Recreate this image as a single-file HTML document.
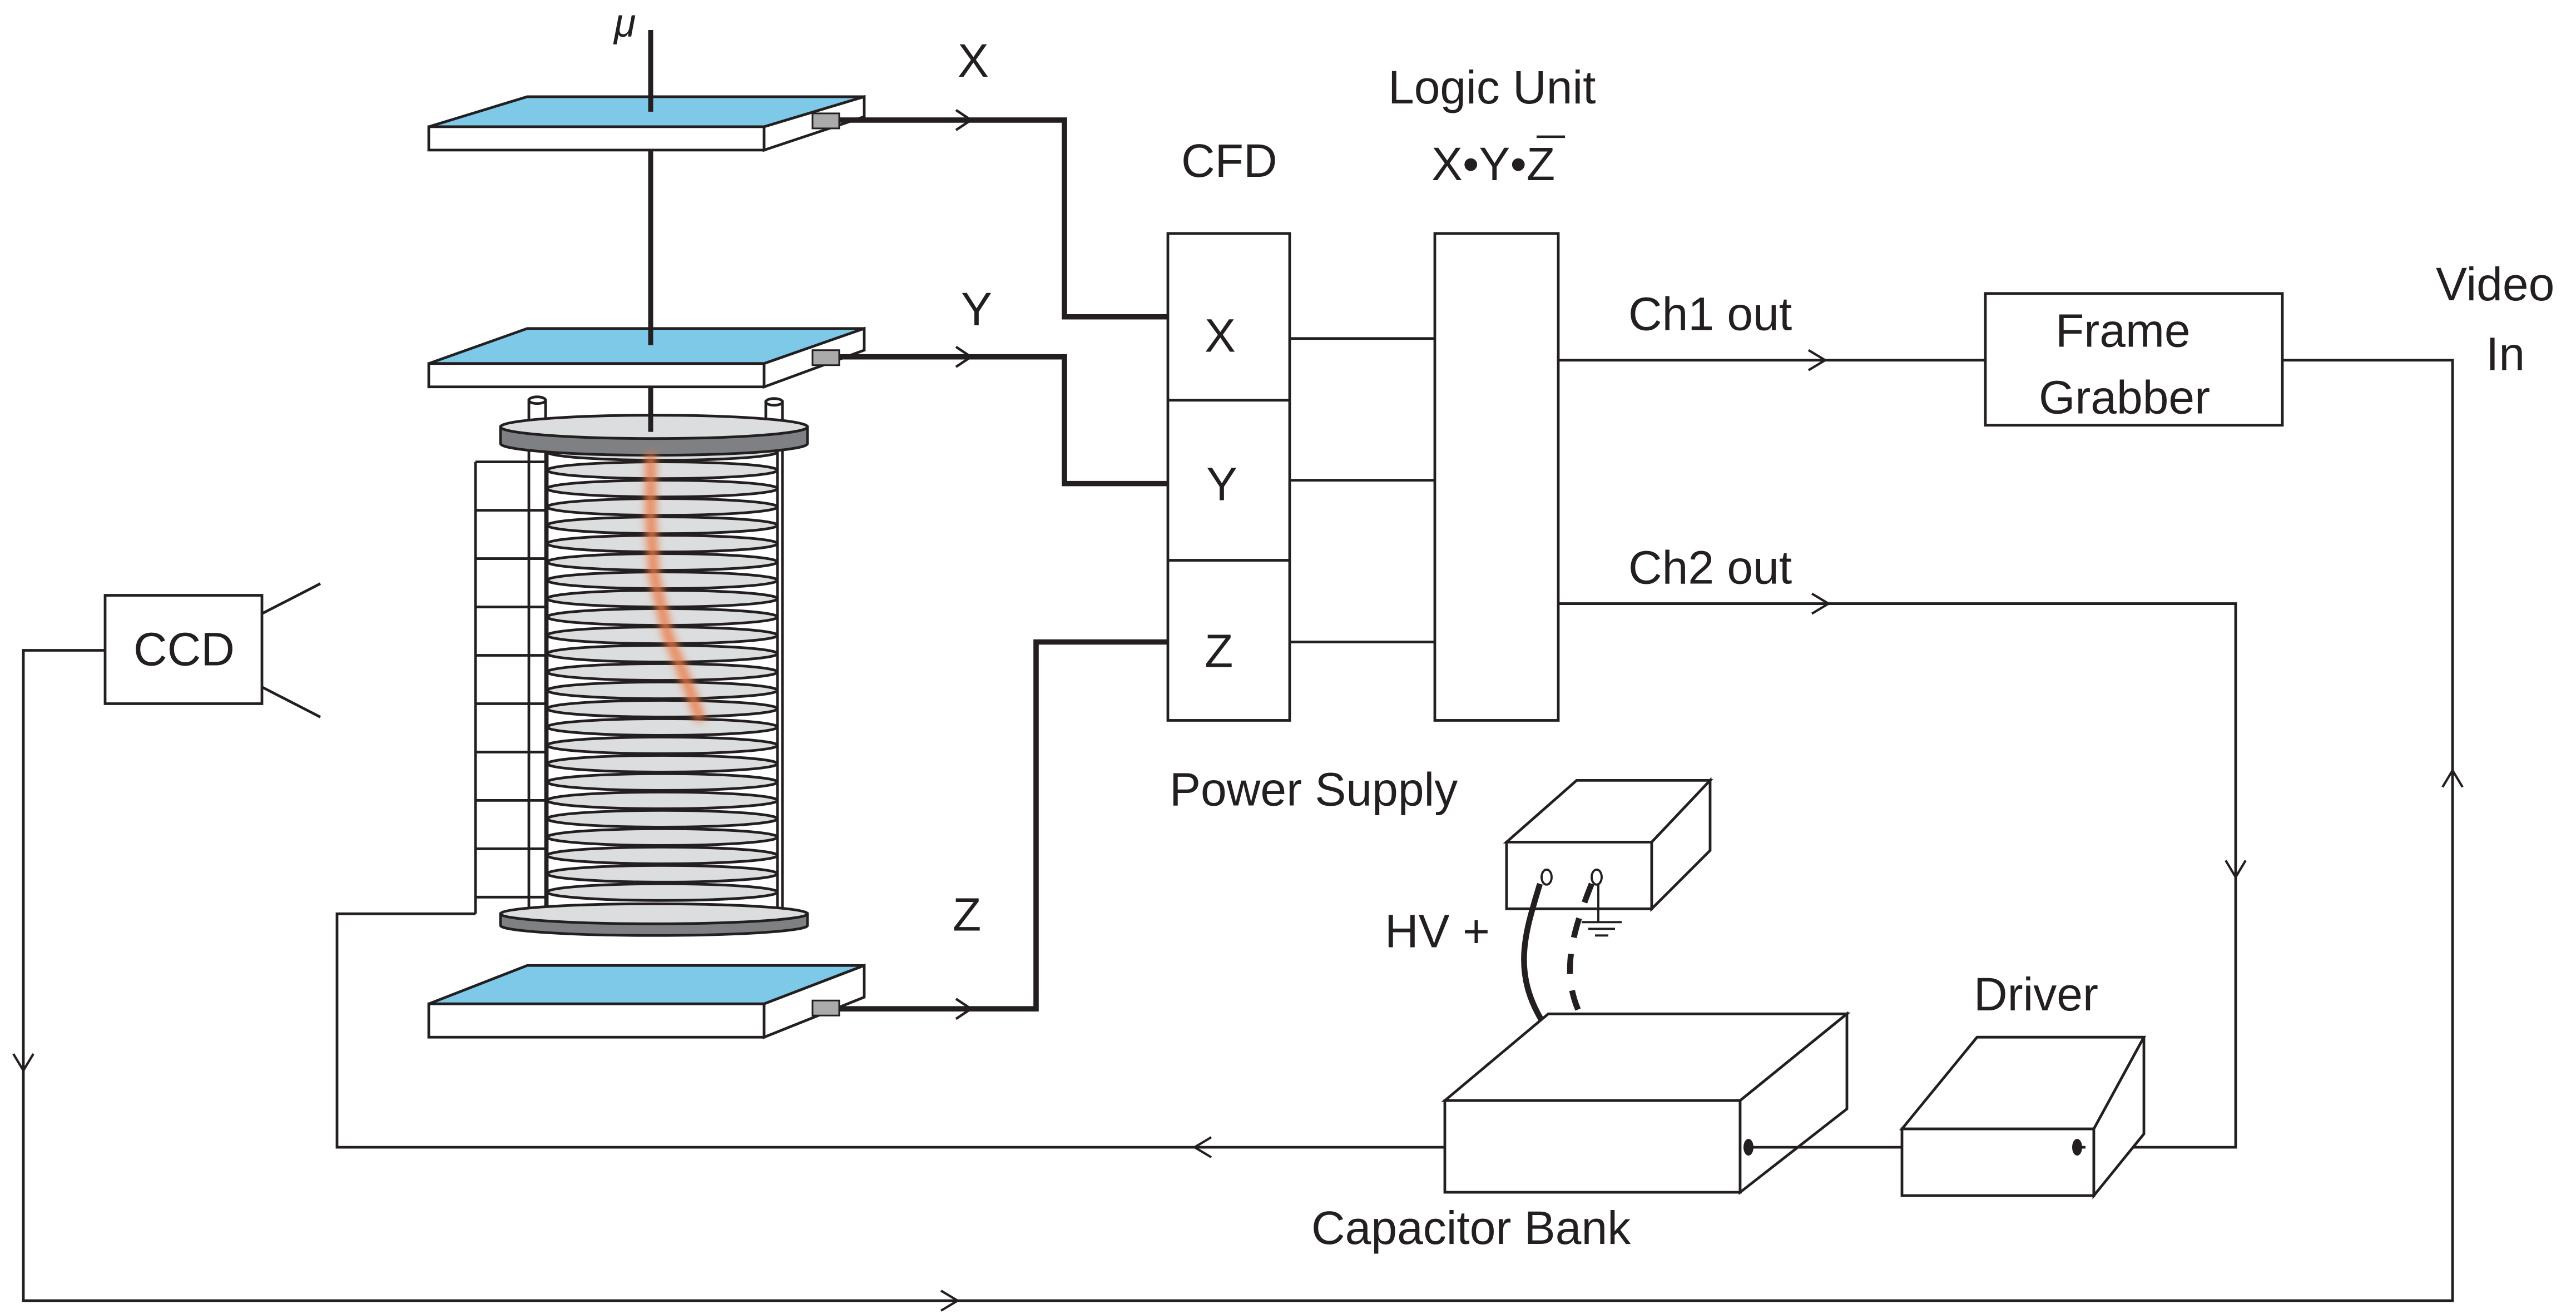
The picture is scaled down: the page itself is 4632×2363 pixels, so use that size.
<!DOCTYPE html>
<html><head><meta charset="utf-8">
<style>
html,body{margin:0;padding:0;background:#fff;width:4632px;height:2363px;overflow:hidden}
svg{display:block}
text{font-family:"Liberation Sans",sans-serif;fill:#231f20}
</style></head>
<body>
<svg width="4632" height="2363" viewBox="0 0 1544 788" preserveAspectRatio="none" xmlns="http://www.w3.org/2000/svg">
<defs>
<filter id="blur" x="-50%" y="-10%" width="200%" height="120%"><feGaussianBlur stdDeviation="2.5"/></filter>
</defs>
<g stroke="#231f20" stroke-width="1.6" fill="none">

<!-- plate 1 -->
<polygon points="257,76 316,58 518,58 458,76" fill="#7ec8e8"/>
<rect x="257" y="76" width="201" height="14" fill="#fff"/>
<polygon points="458,76 518,58 518,70 458,90" fill="#fff"/>
<!-- plate 2 -->
<polygon points="257,218 316,197 518,197 458,218" fill="#7ec8e8"/>
<rect x="257" y="218" width="201" height="14" fill="#fff"/>
<polygon points="458,218 518,197 518,210 458,232" fill="#fff"/>
<!-- plate 3 -->
<polygon points="257,602 316,579 518,579 458,602" fill="#7ec8e8"/>
<rect x="257" y="602" width="201" height="20" fill="#fff"/>
<polygon points="458,602 518,579 518,598 458,622" fill="#fff"/>

<!-- muon line -->
<line x1="390" y1="18" x2="390" y2="67" stroke-width="3"/>
<line x1="390" y1="90" x2="390" y2="207" stroke-width="3"/>
<line x1="390" y1="232" x2="390" y2="258" stroke-width="3"/>

<!-- connectors -->
<rect x="487" y="68" width="16" height="9" fill="#aaa" stroke-width="1"/>
<rect x="487" y="210" width="16" height="9" fill="#aaa" stroke-width="1"/>
<rect x="487" y="600" width="16" height="9" fill="#aaa" stroke-width="1"/>

<!-- thick signal lines -->
<polyline points="503,72 638,72 638,190 700,190" stroke-width="3.2"/>
<polyline points="503,214 638,214 638,290 700,290" stroke-width="3.2"/>
<polyline points="503,605 621,605 621,385 700,385" stroke-width="3.2"/>
<polyline points="573,66 582,72 573,78" stroke-width="1.5"/>
<polyline points="573,208 582,214 573,220" stroke-width="1.5"/>
<polyline points="573,599 582,605 573,611" stroke-width="1.5"/>

<!-- posts -->
<rect x="317" y="240" width="10" height="310" fill="#fff"/>
<ellipse cx="322" cy="240" rx="5" ry="2" fill="#fff"/>
<rect x="459" y="241" width="10" height="309" fill="#fff"/>
<ellipse cx="464" cy="241" rx="5" ry="2" fill="#fff"/>

<!-- ladder -->
<line x1="285" y1="277" x2="285" y2="548"/>
<g>
<line x1="285" y1="277" x2="328" y2="277"/><line x1="285" y1="306" x2="328" y2="306"/>
<line x1="285" y1="335" x2="328" y2="335"/><line x1="285" y1="364" x2="328" y2="364"/>
<line x1="285" y1="393" x2="328" y2="393"/><line x1="285" y1="422" x2="328" y2="422"/>
<line x1="285" y1="451" x2="328" y2="451"/><line x1="285" y1="480" x2="328" y2="480"/>
<line x1="285" y1="509" x2="328" y2="509"/><line x1="285" y1="538" x2="328" y2="538"/>
</g>

<!-- disc stack -->
<rect x="328" y="265" width="138" height="282" fill="#fff" stroke="none"/>
<line x1="328" y1="265" x2="328" y2="547"/>
<line x1="466" y1="265" x2="466" y2="547"/>
<g fill="#dcdddf" stroke-width="1.6">
<ellipse cx="397" cy="271" rx="69" ry="5"/><ellipse cx="397" cy="282" rx="69" ry="5"/>
<ellipse cx="397" cy="293" rx="69" ry="5"/><ellipse cx="397" cy="304" rx="69" ry="5"/>
<ellipse cx="397" cy="315" rx="69" ry="5"/><ellipse cx="397" cy="326" rx="69" ry="5"/>
<ellipse cx="397" cy="337" rx="69" ry="5"/><ellipse cx="397" cy="348" rx="69" ry="5"/>
<ellipse cx="397" cy="359" rx="69" ry="5"/><ellipse cx="397" cy="370" rx="69" ry="5"/>
<ellipse cx="397" cy="381" rx="69" ry="5"/><ellipse cx="397" cy="392" rx="69" ry="5"/>
<ellipse cx="397" cy="403" rx="69" ry="5"/><ellipse cx="397" cy="414" rx="69" ry="5"/>
<ellipse cx="397" cy="425" rx="69" ry="5"/><ellipse cx="397" cy="436" rx="69" ry="5"/>
<ellipse cx="397" cy="447" rx="69" ry="5"/><ellipse cx="397" cy="458" rx="69" ry="5"/>
<ellipse cx="397" cy="469" rx="69" ry="5"/><ellipse cx="397" cy="480" rx="69" ry="5"/>
<ellipse cx="397" cy="491" rx="69" ry="5"/><ellipse cx="397" cy="502" rx="69" ry="5"/>
<ellipse cx="397" cy="513" rx="69" ry="5"/><ellipse cx="397" cy="524" rx="69" ry="5"/>
<ellipse cx="397" cy="535" rx="69" ry="5"/>
</g>
<!-- top disk -->
<path d="M300,256 v10 a92,7 0 0 0 184,0 v-10 z" fill="#7f8083"/>
<ellipse cx="392" cy="256" rx="92" ry="7" fill="#dcdddf"/>
<line x1="390" y1="246" x2="390" y2="259" stroke-width="3"/>
<!-- bottom disk -->
<path d="M300,548 v7 a92,6 0 0 0 184,0 v-7 z" fill="#7f8083"/>
<ellipse cx="392" cy="548" rx="92" ry="6" fill="#dcdddf"/>

<!-- orange streak -->
<polyline points="390,272 390,310 392,345 400,380 412,410 420,432" stroke="#ec7a45" stroke-width="6" filter="url(#blur)" opacity="0.9"/>

<!-- HV return line -->
<polyline points="285,548 202,548 202,688 866,688"/>
<polyline points="726,682 716,688 726,694" stroke-width="1.4"/>

<!-- CCD -->
<rect x="63" y="357" width="94" height="65" fill="#fff"/>
<line x1="157" y1="368" x2="192" y2="350"/>
<line x1="157" y1="412" x2="192" y2="430"/>
<polyline points="63,390 14,390 14,780 1470,780 1470,216 1368,216"/>
<polyline points="8,632 14,642 20,632" stroke-width="1.4"/>
<polyline points="564,774 574,780 564,786" stroke-width="1.4"/>
<polyline points="1464,472 1470,462 1476,472" stroke-width="1.4"/>

<!-- CFD -->
<rect x="700" y="140" width="73" height="292" fill="#fff"/>
<line x1="700" y1="240" x2="773" y2="240"/>
<line x1="700" y1="336" x2="773" y2="336"/>
<line x1="773" y1="203" x2="860" y2="203"/>
<line x1="773" y1="288" x2="860" y2="288"/>
<line x1="773" y1="385" x2="860" y2="385"/>
<!-- Logic -->
<rect x="860" y="140" width="74" height="292" fill="#fff"/>
<line x1="934" y1="216" x2="1190" y2="216"/>
<polyline points="1084,210 1094,216 1084,222" stroke-width="1.4"/>
<rect x="1190" y="176" width="178" height="79" fill="#fff"/>
<polyline points="934,362 1340,362 1340,688 1250,688"/>
<polyline points="1086,356 1096,362 1086,368" stroke-width="1.4"/>
<polyline points="1334,516 1340,526 1346,516" stroke-width="1.4"/>

<!-- Power supply -->
<polygon points="903,505 945,468 1025,468 990,505" fill="#fff"/>
<rect x="903" y="505" width="87" height="40" fill="#fff"/>
<polygon points="990,505 1025,468 1025,510 990,545" fill="#fff"/>
<g stroke-width="1.3" fill="#fff">
<ellipse cx="927" cy="526" rx="3" ry="4.5"/>
<ellipse cx="957" cy="526" rx="3" ry="4.5"/>
</g>
<line x1="958" y1="530" x2="958" y2="553" stroke-width="1.3"/>
<line x1="948" y1="553" x2="972" y2="553" stroke-width="1.3"/>
<line x1="952" y1="557" x2="968" y2="557" stroke-width="1.3"/>
<line x1="956" y1="561" x2="964" y2="561" stroke-width="1.3"/>
<path d="M923,530 C914,560 905,585 928,618" stroke-width="3.5"/>
<path d="M954,530 C942,560 935,585 948,610" stroke-width="3.5" stroke-dasharray="12,10"/>

<!-- Capacitor bank -->
<polygon points="866,660 928,608 1107,608 1043,660" fill="#fff"/>
<rect x="866" y="660" width="177" height="55" fill="#fff"/>
<polygon points="1043,660 1107,608 1107,665 1043,715" fill="#fff"/>
<line x1="1048" y1="688" x2="1140" y2="688"/>
<ellipse cx="1048" cy="688" rx="3" ry="5" fill="#231f20" stroke="none"/>

<!-- Driver -->
<polygon points="1140,677 1185,622 1285,622 1255,677" fill="#fff"/>
<rect x="1140" y="677" width="115" height="40" fill="#fff"/>
<polygon points="1255,677 1285,622 1285,680 1255,717" fill="#fff"/>
<line x1="1245" y1="688" x2="1250" y2="688"/>
<ellipse cx="1245" cy="688" rx="3" ry="5" fill="#231f20" stroke="none"/>
</g>

<!-- text -->
<g font-size="28">
<text x="368" y="22" font-style="italic" font-family="Liberation Serif" font-size="24">μ</text>
<text x="574" y="46">X</text>
<text x="576" y="195">Y</text>
<text x="571" y="558">Z</text>
<text x="708" y="106">CFD</text>
<text x="722" y="211">X</text>
<text x="723" y="300">Y</text>
<text x="722" y="400">Z</text>
<text x="832" y="62">Logic Unit</text>
<text x="858" y="108">X•Y•Z</text>
<text x="976" y="198">Ch1 out</text>
<text x="976" y="350">Ch2 out</text>
<text x="1232" y="208">Frame</text>
<text x="1222" y="248">Grabber</text>
<text x="1460" y="180">Video</text>
<text x="1490" y="222">In</text>
<text x="80" y="399">CCD</text>
<text x="701" y="483">Power Supply</text>
<text x="830" y="568">HV +</text>
<text x="1183" y="606">Driver</text>
<text x="786" y="746">Capacitor Bank</text>
</g>
<line x1="921" y1="82" x2="938" y2="82" stroke="#231f20" stroke-width="1.5"/>
</svg>
</body></html>
